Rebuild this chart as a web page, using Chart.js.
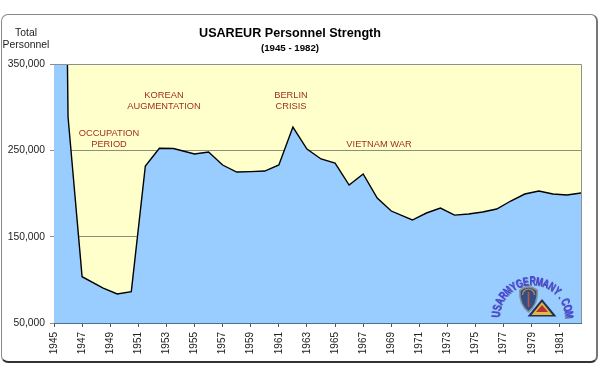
<!DOCTYPE html>
<html>
<head>
<meta charset="utf-8">
<script src="https://cdn.jsdelivr.net/npm/chart.js@4"></script>
<style>
  body { margin: 0; background: #fff; }
  #frame { position: absolute; left: 1px; top: 14px; width: 594px; height: 346px; border: 1px solid #8a8a8a; border-right: 2px solid #777; border-bottom: 2px solid #333; border-radius: 7px; }
  #usareur { position: absolute; left: 0; top: 0; }
</style>
</head>
<body>
<div id="frame"></div>
<canvas id="usareur" width="600" height="383"></canvas>
<script>
const years = [1945, 1946, 1947, 1948.5, 1949.5, 1950.5, 1951.5, 1952.5, 1953.5, 1955, 1956, 1957, 1958, 1959, 1960, 1961, 1962, 1963, 1964, 1965, 1966, 1967, 1968, 1969, 1970.5, 1971.5, 1972.5, 1973.5, 1974.5, 1975.5, 1976.5, 1977.5, 1978.5, 1979.5, 1980.5, 1981.5, 1982.5]
const personnel = [1700000, 288600, 103600, 90500, 83600, 86300, 231900, 252400, 252100, 245800, 248000, 233000, 224900, 225300, 226000, 233000, 277000, 251500, 240000, 235300, 209800, 222600, 194800, 179700, 169300, 177400, 183200, 175000, 176300, 178600, 182000, 191300, 199400, 202900, 199400, 198300, 200600]
const xTicks = [1945, 1947, 1949, 1951, 1953, 1955, 1957, 1959, 1961, 1963, 1965, 1967, 1969, 1971, 1973, 1975, 1977, 1979, 1981]
const yTicks = [50000, 150000, 250000, 350000]
const notes = [
  ['OCCUPATION', 109, 133], ['PERIOD', 109, 144],
  ['KOREAN', 164, 95], ['AUGMENTATION', 164, 106],
  ['BERLIN', 291, 95], ['CRISIS', 291, 106],
  ['VIETNAM WAR', 379, 144]
]
const logoText = 'USARMYGERMANY.COM'

function centered(ctx, text, x, y, font, color) {
  ctx.font = font
  ctx.fillStyle = color
  ctx.textAlign = 'center'
  ctx.textBaseline = 'middle'
  ctx.fillText(text, x, y)
}

function poly(ctx, pts, color) {
  ctx.fillStyle = color
  ctx.beginPath()
  pts.forEach((p, i) => i ? ctx.lineTo(p[0], p[1]) : ctx.moveTo(p[0], p[1]))
  ctx.closePath()
  ctx.fill()
}

function drawLogo(ctx) {
  // lettering on an arc, squeezed so the tall letters fit
  const cx = 532.5, cy = 318, r = 33
  ctx.font = 'bold 12px "Liberation Sans"'
  ctx.textAlign = 'center'
  ctx.textBaseline = 'alphabetic'
  ;[...logoText].forEach((ch, i) => {
    const a = Math.PI + (i + 0.5) / logoText.length * Math.PI
    ctx.save()
    ctx.translate(cx + r * Math.cos(a), cy + r * Math.sin(a))
    ctx.rotate(a + Math.PI / 2)
    ctx.scale(0.72, 1)
    ctx.fillStyle = '#5a6a9a'
    ctx.fillText(ch, 1, 0.8)
    ctx.fillStyle = '#4a44e0'
    ctx.fillText(ch, 0, 0)
    ctx.restore()
  })
  // shield
  ctx.fillStyle = '#8a9098'
  ctx.beginPath()
  ctx.moveTo(519, 290)
  ctx.quadraticCurveTo(528.5, 282, 538, 290)
  ctx.quadraticCurveTo(539, 305, 528.5, 313)
  ctx.quadraticCurveTo(518, 305, 519, 290)
  ctx.fill()
  ctx.fillStyle = '#2f4f86'
  ctx.beginPath()
  ctx.moveTo(520.5, 291)
  ctx.quadraticCurveTo(528.5, 284.5, 536.5, 291)
  ctx.quadraticCurveTo(537, 304, 528.5, 311)
  ctx.quadraticCurveTo(520, 304, 520.5, 291)
  ctx.fill()
  ctx.strokeStyle = '#c98a3a'
  ctx.lineWidth = 1.2
  ctx.beginPath()
  ctx.arc(528.5, 295, 6, Math.PI, 0)
  ctx.stroke()
  ctx.strokeStyle = '#c8503a'
  ctx.lineWidth = 1.6
  ctx.beginPath()
  ctx.moveTo(528.5, 292)
  ctx.lineTo(528.5, 307)
  ctx.stroke()
  // triangle patch
  poly(ctx, [[542, 299], [556.5, 316.5], [527.5, 316.5]], '#1f2f5a')
  poly(ctx, [[542, 302], [552.5, 315], [531.5, 315]], '#e2b93c')
  poly(ctx, [[542, 305], [548, 312], [536, 312]], '#b5303a')
}

const chartDecor = {
  id: 'chartDecor',
  beforeDraw(chart) {
    const { ctx, chartArea: a } = chart
    ctx.save()
    ctx.fillStyle = '#FFFFCC'
    ctx.fillRect(a.left, a.top, a.right - a.left, a.bottom - a.top)
    ctx.restore()
  },
  afterDraw(chart) {
    const { ctx, chartArea: a } = chart
    ctx.save()
    ctx.strokeStyle = '#8f8f8f'
    ctx.lineWidth = 1
    ctx.beginPath()
    ctx.moveTo(a.left, a.top + 0.5)
    ctx.lineTo(a.right + 0.5, a.top + 0.5)
    ctx.lineTo(a.right + 0.5, a.bottom)
    ctx.stroke()

    centered(ctx, 'USAREUR Personnel Strength', 290, 33.5, 'bold 12.6px "Liberation Sans"', '#000')
    centered(ctx, '(1945 - 1982)', 290, 48, 'bold 9.7px "Liberation Sans"', '#000')
    centered(ctx, 'Total', 26, 33, '10.4px "Liberation Sans"', '#222')
    centered(ctx, 'Personnel', 26, 45, '10.4px "Liberation Sans"', '#222')
    notes.forEach(n => centered(ctx, n[0], n[1], n[2], '9.3px "Liberation Sans"', '#A03020'))
    drawLogo(ctx)
    ctx.restore()
  }
}

new Chart(document.querySelector('#usareur'), {
  type: 'line',
  data: {
    datasets: [{
      data: years.map((y, i) => ({ x: y, y: personnel[i] })),
      borderColor: '#000',
      borderWidth: 1.4,
      backgroundColor: '#99CCFF',
      fill: 'start',
      pointRadius: 0,
      tension: 0
    }]
  },
  options: {
    responsive: false,
    animation: false,
    layout: { padding: { top: 64, right: 19, left: 0, bottom: 0 } },
    plugins: {
      legend: false,
      title: { display: false },
      tooltip: { enabled: false }
    },
    scales: {
      x: {
        type: 'linear',
        min: 1945,
        max: 1982.5,
        afterBuildTicks: axis => { axis.ticks = xTicks.map(v => ({ value: v })) },
        afterFit: axis => { axis.height = 60 },
        grid: { drawOnChartArea: false, tickLength: 4, color: '#555' },
        border: { color: '#4f6f8f', width: 1 },
        ticks: {
          autoSkip: false,
          minRotation: 90,
          maxRotation: 90,
          padding: 5,
          color: '#222',
          font: { family: '"Liberation Sans"', size: 10 },
          callback: v => String(v)
        }
      },
      y: {
        min: 50000,
        max: 350000,
        afterBuildTicks: axis => { axis.ticks = yTicks.map(v => ({ value: v })) },
        afterFit: axis => { axis.width = 54 },
        grid: { tickLength: 4, color: '#8f8f7f' },
        border: { color: '#4f6f8f', width: 1 },
        ticks: {
          padding: 5,
          color: '#222',
          font: { family: '"Liberation Sans"', size: 10.3 },
          callback: v => v.toLocaleString('en-US')
        }
      }
    }
  },
  plugins: [chartDecor]
})
</script>
</body>
</html>
